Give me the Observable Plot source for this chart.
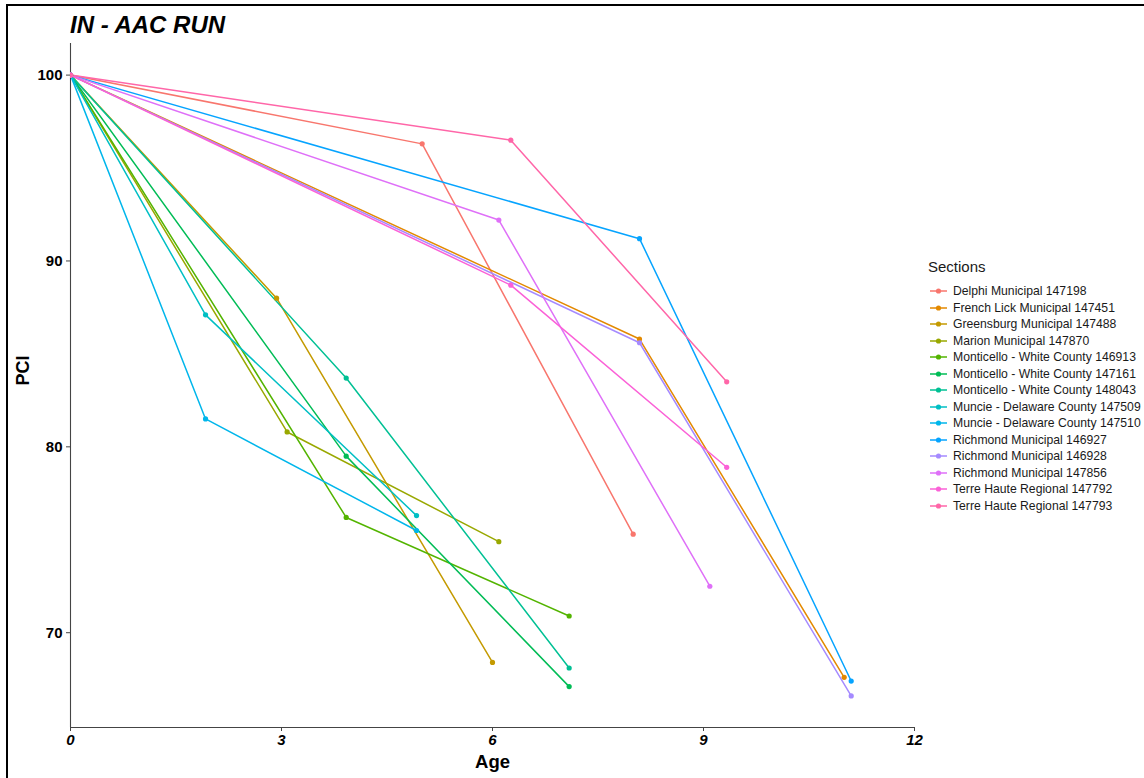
<!DOCTYPE html>
<html>
<head>
<meta charset="utf-8">
<script src="https://cdn.jsdelivr.net/npm/d3@7"></script>
<script src="https://cdn.jsdelivr.net/npm/@observablehq/plot@0.6"></script>
<style>
  html, body { margin: 0; padding: 0; background: #fff; }
  body { font-family: "Liberation Sans", Arial, sans-serif; }
  #wrap { position: relative; width: 1144px; height: 778px; overflow: hidden; background: #fff; }
  #edge { position: absolute; left: 6px; top: 4px; width: 1200px; height: 800px;
          border-left: 2px solid #000; border-top: 2px solid #000; pointer-events: none; }
  #title { position: absolute; left: 70px; top: 11px; font-size: 24px; font-weight: bold;
           font-style: italic; color: #000; white-space: nowrap; }
  #chart { position: absolute; left: 0; top: 0; }
  #legend { position: absolute; left: 928px; top: 257px; color: #1a1a1a; }
  #legend .head { font-size: 15px; height: 26px; line-height: 20px; }
  #legend .item { display: flex; align-items: center; height: 16.5px; font-size: 12.2px; white-space: nowrap; }
  #legend .item svg { flex: none; margin-right: 6px; }
</style>
</head>
<body>
<div id="wrap">
  <div id="chart"></div>
  <div id="title">IN - AAC RUN</div>
  <div id="legend"></div>
  <div id="edge"></div>
</div>
<script>
// Pavement sections and their colours (hue palette, 14 levels)
const sections = [
  "Delphi Municipal 147198",
  "French Lick Municipal 147451",
  "Greensburg Municipal 147488",
  "Marion Municipal 147870",
  "Monticello - White County 146913",
  "Monticello - White County 147161",
  "Monticello - White County 148043",
  "Muncie - Delaware County 147509",
  "Muncie - Delaware County 147510",
  "Richmond Municipal 146927",
  "Richmond Municipal 146928",
  "Richmond Municipal 147856",
  "Terre Haute Regional 147792",
  "Terre Haute Regional 147793"
];
const colors = [
  "#F8766D", "#E38900", "#C49A00", "#99A800", "#53B400", "#00BC56", "#00C094",
  "#00BFC4", "#00B6EB", "#06A4FF", "#A58AFF", "#DF70F8", "#FB61D7", "#FF66A8"
];

// Every section starts new at age 0 with PCI 100
const startAge = 0;
const startPci = 100;
// First survey
const age1 = [5.0, 8.09, 2.93, 3.08, 3.92, 3.92, 3.92, 1.92, 1.92, 8.09, 8.09, 6.09, 6.26, 6.26];
const pci1 = [96.3, 85.8, 88.0, 80.8, 76.2, 79.5, 83.7, 87.1, 81.5, 91.2, 85.6, 92.2, 88.7, 96.5];
// Second survey
const age2 = [8.0, 11.0, 6.0, 6.09, 7.09, 7.09, 7.09, 4.92, 4.92, 11.1, 11.1, 9.09, 9.33, 9.33];
const pci2 = [75.3, 67.6, 68.4, 74.9, 70.9, 67.1, 68.1, 76.3, 75.5, 67.4, 66.6, 72.5, 78.9, 83.5];

const xTicks = [0, 3, 6, 9, 12];
const yTicks = [70, 80, 90, 100];

const rows = sections.flatMap((s, i) => [
  {section: s, age: startAge, pci: startPci},
  {section: s, age: age1[i], pci: pci1[i]},
  {section: s, age: age2[i], pci: pci2[i]}
]);

const font = "Liberation Sans, Arial, sans-serif";
const axisColor = "#444";

const chart = Plot.plot({
  width: 1144,
  height: 778,
  marginLeft: 70,
  marginRight: 230,
  marginTop: 43,
  marginBottom: 51,
  style: {fontFamily: font, color: "#000", background: "transparent", overflow: "visible"},
  x: {domain: [0, 12]},
  y: {domain: [64.9, 101.7]},
  color: {domain: sections, range: colors},
  marks: [
    Plot.ruleX([0], {stroke: axisColor, strokeWidth: 1.1}),
    Plot.ruleY([64.9], {stroke: axisColor, strokeWidth: 1.1}),
    Plot.axisX({ticks: xTicks, tickFormat: d => String(d), tickSize: 4, tickPadding: 3,
      stroke: axisColor, fill: "#000", fontSize: 15, fontWeight: "bold", fontStyle: "italic",
      fontFamily: font, label: null}),
    Plot.axisY({ticks: yTicks, tickFormat: d => String(d), tickSize: 4, tickPadding: 4,
      stroke: axisColor, fill: "#000", fontSize: 15, fontWeight: "bold",
      fontFamily: font, label: null}),
    Plot.text(["Age"], {frameAnchor: "bottom", lineAnchor: "bottom", dy: 40,
      fontSize: 18.5, fontWeight: "bold", fontFamily: font, fill: "#000"}),
    Plot.text(["PCI"], {frameAnchor: "left", rotate: -90, dx: -47,
      fontSize: 18, fontWeight: "bold", fontFamily: font, fill: "#000"}),
    Plot.line(rows, {x: "age", y: "pci", z: "section", stroke: "section", strokeWidth: 1.5, clip: true}),
    Plot.dot(rows, {x: "age", y: "pci", fill: "section", r: 2.6, clip: true})
  ]
});
document.getElementById("chart").appendChild(chart);

// Legend: line-and-point key per section
const legend = document.getElementById("legend");
const head = document.createElement("div");
head.className = "head";
head.textContent = "Sections";
legend.appendChild(head);
sections.forEach((s, i) => {
  const item = document.createElement("div");
  item.className = "item";
  const key = d3.create("svg").attr("width", 19).attr("height", 12);
  key.append("line").attr("x1", 2).attr("x2", 19).attr("y1", 6).attr("y2", 6)
    .attr("stroke", colors[i]).attr("stroke-width", 1.5);
  key.append("circle").attr("cx", 10.5).attr("cy", 6).attr("r", 2.6).attr("fill", colors[i]);
  item.appendChild(key.node());
  const label = document.createElement("span");
  label.textContent = s;
  item.appendChild(label);
  legend.appendChild(item);
});
</script>
</body>
</html>
